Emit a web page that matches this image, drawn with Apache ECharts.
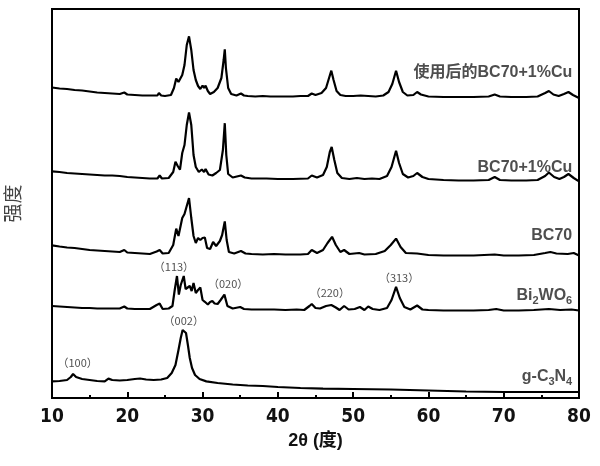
<!DOCTYPE html>
<html>
<head>
<meta charset="utf-8">
<script src="https://cdn.jsdelivr.net/npm/echarts@6/dist/echarts.min.js"></script>
<style>html,body{margin:0;padding:0;background:#fff}#c{width:600px;height:466px}</style>
</head>
<body>
<div id="c"></div>
<script>
// 2θ (degrees) and intensity (arbitrary units, stacked)
const usedX = [10,11,12,13,14,15,16,17,18,19,19.6,20,21,22,23,24,24.2,24.5,25,25.8,26.2,26.5,26.8,27.0,27.3,27.6,27.9,28.2,28.5,28.8,29.1,29.4,29.7,30.0,30.2,30.4,30.7,31.0,31.5,32.0,32.5,32.8,32.95,33.1,33.4,33.8,34.5,35.1,35.5,36,37,38,39,40,41,42,43,44,44.5,45,45.8,46.4,46.8,47.1,47.4,47.8,48.3,49,50,51,52,53,54,54.7,55.2,55.7,56.1,56.6,57.2,58,58.5,59,60,62,64,66,68,68.8,69.5,71,73,74.5,75.5,76,76.6,77.3,78,78.6,79.2,80];
const usedY = [310.5,309.5,309,308,307.5,306.5,305.5,305,304.5,304,305.5,303.5,303,302.5,302.5,302.5,305,302.5,302,303,310,319.4,316,314,323,333,353,361.6,348,328,318,312,309,312.5,310,312.3,307,304,306,310,320,338,348.7,330,310,304,302.5,304.5,302.5,302,301.5,302,301.5,301.5,301.5,301.5,302,302,304.5,303,305,310,320,327.3,318,307,303,302,302,302.5,302,301.5,302.5,306,314,327.3,316,306,302.5,303,306,303.5,301.5,301,301,301,301.5,303.5,301.5,301,301,301.5,305,307,303.5,302,304,306,303,300];

const cuX = [10,11,12,13,14,15,16,17,18,19,20,21,22,23,24,24.3,24.6,25.5,26.1,26.4,26.7,27.0,27.3,27.6,27.9,28.2,28.5,28.8,29.1,29.5,29.9,30.2,30.4,30.8,31.3,31.8,32.3,32.7,32.95,33.15,33.4,34,35.1,35.6,36.5,37.5,38.5,40,42,44,44.5,45.2,46,46.5,46.9,47.15,47.5,47.9,48.5,49.5,50.5,51.5,52.5,53.5,54.5,55.1,55.7,56.1,56.6,57.3,58,58.5,59.2,60,62,64,66,68,68.8,69.5,71,73,74.5,75.5,76,76.7,77.4,78,78.6,79.3,80];
const cuY = [226.6,226,225,224.5,224,223.5,223,222.5,222.5,222,221,220.5,220,219.5,219.5,222.5,219.5,220,226,236.2,232,228.4,245,253,273,285.5,273,243,231,226,228.5,226,229,223.5,222.5,225,228,248,274.8,243,224,220.5,222.5,220.5,219.5,219.5,219.5,219,219,219.5,222.5,220.5,223,231,246,251,238,225,220,219,220,219,219.5,219,222,231,247.3,235,224,220.5,222,225,221,219,218,217.5,217.5,218,221,218,217.5,217.5,218,222,225.5,221,219,221,224,220,216.6];

const bcX = [10,11,12,13,14,15,16,17,18,19,19.6,20,21,22,23,23.9,24.3,24.7,25.5,26.1,26.5,26.8,27.0,27.3,27.6,27.9,28.2,28.5,28.8,29.1,29.4,29.7,30.0,30.3,30.6,31.0,31.4,31.8,32.3,32.6,32.95,33.2,33.5,34.2,35.1,35.7,36.5,38,39.5,41,43,44,44.5,45.2,46,46.6,47.2,47.7,48.3,48.8,49.5,50.8,51.5,53,54.2,55.0,55.7,56.3,57,58.5,60,62,64,66,68.8,70,72,74,75.5,76.2,77,78.5,79.3,80];
const bcY = [152.6,151.5,150.5,150,149,148,147.5,147,146.5,146,148,145.5,145,144.5,144,146.5,148,144.5,145,153,169.4,162,160.5,180,184,192,200,180,162,155,160,158,160,160.5,150,149,156,152,157,163,176.6,158,146,144.5,147,144.5,144,143.5,144,143.5,143.5,144,148,145,148,155,161.2,153,146,148,144,145,143.5,144,147,153,159.4,151,145,144.5,143,142.5,142.5,142.5,143.5,142.5,142.5,143,145,146,144.5,144,145,142.5];

const bwoX = [10,11,12,13,14,15,16,17,18,19,19.6,20,21,22,23,23.9,24.3,24.7,25.5,26.0,26.3,26.6,26.85,27.1,27.5,27.75,28.0,28.3,28.55,28.8,29.1,29.4,29.7,30.0,30.3,30.7,31.0,31.3,31.6,32.0,32.4,32.9,33.3,34,35,35.5,36.5,38,39.5,41,42.5,43.5,44.2,44.5,45.0,45.6,46.4,47.1,47.7,48.2,48.8,49.4,50.2,50.9,51.5,52.0,52.6,53.5,54.5,55.1,55.7,56.2,56.8,57.6,58.5,59.2,60,62,64,66,68,69,70,72,74,76,77.5,79,80];
const bwoY = [92,91.5,91,90.5,90,90,89.5,89.5,89.5,89.5,91.5,89.5,89,89,89,93,94.4,89,89.5,92,108,122,103.4,113,122,109,107,112,107,115,105,108,110.5,98,96.2,93.5,96,97,94.5,94,98,103.4,92,89.5,91,89,88.5,88.5,88.5,88,88.5,88,92,94,90,89.5,92,93,90.5,88,92,88.5,89,91,88,91.5,89,88,90,98,111.2,100,91,88.5,92.5,88.5,88,87.5,87.5,87.5,88,89,87.5,87.5,88,89,88,88.5,87.5];

const gcnX = [10,11,12,12.5,12.8,13.2,14,15,16,17,17.5,18,19,20,21,21.7,22.5,23.5,24.5,25.3,25.9,26.4,26.8,27.1,27.35,27.55,27.8,28.05,28.3,28.6,29.0,29.6,30.5,32,34,36,38,40,43,46,50,55,60,65,70,75,80];
const gcnY = [16.6,17,18,21,24,21,19,18,17,16.6,19.4,18,17.5,18,19,19.5,18.5,18,18.5,20,25,33,48,60,68,68.7,65,53,40,30,23,19,16.6,15,13.5,12.5,12,11,10,9.4,9,8.5,7.5,6.5,6,6,6];

const xTicks = [10,20,30,40,50,60,70,80];
const xName = '2θ (度)';
const yName = '强度';

const sampleNames = ['使用后的BC70+1%Cu','BC70+1%Cu','BC70','Bi{s|2}WO{s|6}','g-C{s|3}N{s|4}'];
const sampleLabelX = [79.1,79.1,79.1,79.1,79.1];
const sampleLabelY = [325,230,162,102,21];

const peakTexts = ['（100）','（002）','（113）','（020）','（220）','（313）'];
const peakX = [13.4,27.5,26.2,33.4,46.9,56.1];
const peakY = [35.5,77,131,114,105,120];

const curves = [[usedX,usedY],[cuX,cuY],[bcX,bcY],[bwoX,bwoY],[gcnX,gcnY]];

// pick a condensed font for the tick labels if one is installed
function hasFont(name){
  const c = document.createElement('canvas').getContext('2d');
  c.font = 'bold 40px monospace'; const w0 = c.measureText('mmmmwwii0123').width;
  c.font = 'bold 40px "' + name + '", monospace'; const w1 = c.measureText('mmmmwwii0123').width;
  return Math.abs(w0 - w1) > 0.5;
}
let tickFont = '"Liberation Sans", Arial, sans-serif', tickSize = 19;
const narrowFonts = ['Liberation Sans Narrow','Arial Narrow','DejaVu Sans Condensed','Roboto Condensed'];
for (let i = 0; i < narrowFonts.length; i++) {
  if (hasFont(narrowFonts[i])) { tickFont = '"' + narrowFonts[i] + '", sans-serif'; tickSize = (i === 2 ? 19 : 22); break; }
}

const chart = echarts.init(document.getElementById('c'), null, {renderer:'canvas'});
const lineSeries = curves.map(function(c){
  return {
    type:'line', showSymbol:false, symbol:'none', animation:false,
    data: c[0].map(function(x,i){return [x,c[1][i]];}),
    lineStyle:{color:'#000', width:2.2}, z:3
  };
});
const nameSeries = {
  type:'scatter', symbolSize:0, animation:false, silent:true,
  data: sampleNames.map(function(n,i){return {value:[sampleLabelX[i],sampleLabelY[i]], name:n};}),
  label:{
    show:true, position:'left', distance:0,
    formatter:function(p){return p.name;},
    fontFamily:'Liberation Sans, Arial, "Noto Sans CJK SC", sans-serif',
    fontWeight:'bold', fontSize:16, color:'#222',
    rich:{ s:{fontSize:11, fontWeight:'bold', color:'#222', fontFamily:'Liberation Sans, Arial, sans-serif', padding:[9,0,0,0]} }
  }
};
const peakSeries = {
  type:'scatter', symbolSize:0, animation:false, silent:true,
  data: peakTexts.map(function(t,i){return {value:[peakX[i],peakY[i]], name:t};}),
  label:{
    show:true, position:'inside',
    formatter:function(p){return p.name;},
    fontFamily:'"Noto Sans CJK SC", sans-serif', fontSize:11, color:'#222'
  }
};

chart.setOption({
  animation:false,
  backgroundColor:'#fff',
  grid:{left:52, right:21, top:9, bottom:68, show:true, borderColor:'#000', borderWidth:2, containLabel:false, outerBoundsMode:'none'},
  xAxis:{
    type:'value', min:10, max:80, interval:10,
    name:xName, nameLocation:'middle', nameGap:33,
    nameTextStyle:{fontFamily:'Liberation Sans, Arial, "Noto Sans CJK SC", sans-serif', fontWeight:'bold', fontSize:18, color:'#111'},
    axisLine:{show:true, onZero:false, lineStyle:{color:'#000', width:2}},
    axisTick:{show:true, inside:true, length:6, lineStyle:{color:'#000', width:2}},
    minorTick:{show:true, splitNumber:2, length:3, lineStyle:{color:'#000', width:2}},
    splitLine:{show:false}, minorSplitLine:{show:false},
    axisLabel:{margin:10, fontFamily:tickFont, fontWeight:'bold', fontSize:tickSize, color:'#111',
      formatter:function(v){return xTicks.indexOf(v)>=0 ? String(v) : '';}}
  },
  yAxis:{
    type:'value', min:0, max:389,
    name:yName, nameLocation:'middle', nameGap:30, nameRotate:90,
    nameTextStyle:{fontFamily:'"Noto Sans CJK SC", sans-serif', fontSize:19, color:'#444'},
    axisLine:{show:false}, axisTick:{show:false}, axisLabel:{show:false}, splitLine:{show:false}
  },
  series: lineSeries.concat([nameSeries, peakSeries])
});
</script>
</body>
</html>
